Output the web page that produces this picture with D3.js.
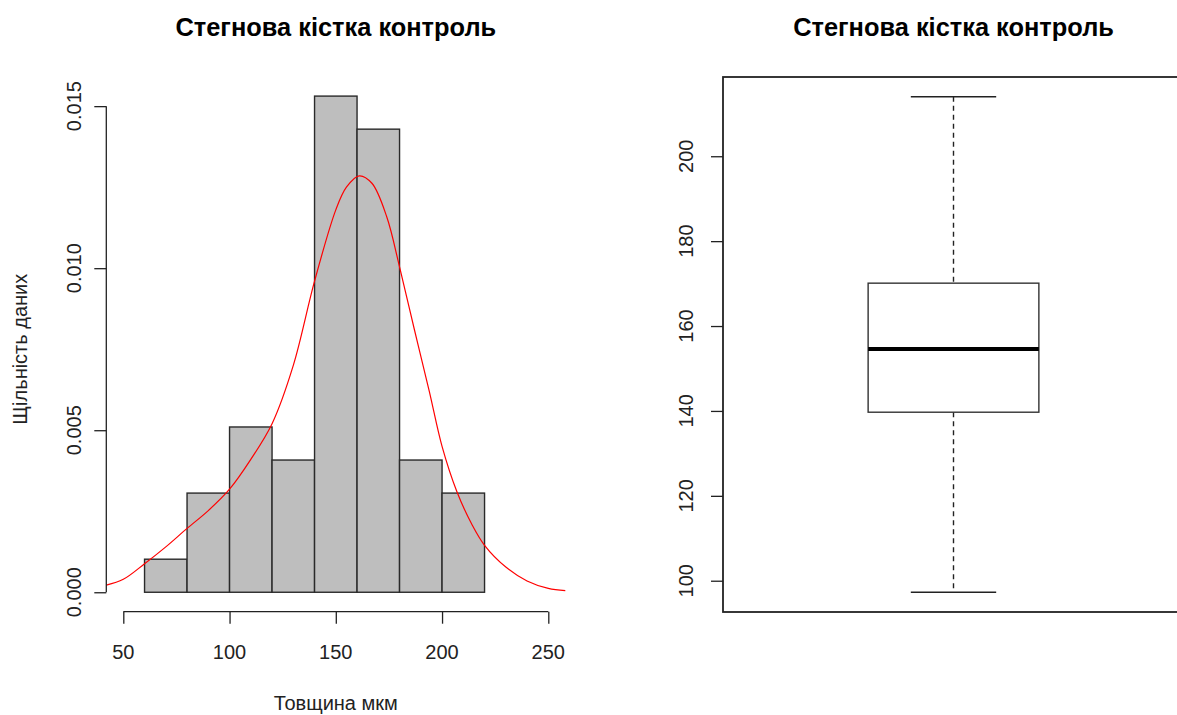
<!DOCTYPE html>
<html>
<head>
<meta charset="utf-8">
<script src="https://cdn.jsdelivr.net/npm/d3@7/dist/d3.min.js"></script>
<style>
  html, body { margin: 0; padding: 0; background: #fff; }
  svg { display: block; }
  text { font-family: "Liberation Sans", Arial, Helvetica, sans-serif; fill: #222; }
</style>
</head>
<body>
<svg id="chart" width="1177" height="715"></svg>
<script>
// ---------- data ----------
const chartTitle = "Стегнова кістка контроль";
const xAxisTitle = "Товщина мкм";
const yAxisTitle = "Щільність даних";

// histogram bins (lower edge) and bin width (мкм)
const binStarts = [60, 80, 100, 120, 140, 160, 180, 200];
const binWidth = 20;
// density of each bin
const binDensity = [0.00102, 0.00306, 0.0051, 0.00408, 0.01531, 0.01429, 0.00408, 0.00306];

// red density curve
const curveX = [42, 50, 60, 70, 80, 90, 100, 110, 120, 130, 140, 150, 155, 161, 167, 174, 180, 187, 194, 200, 207, 214, 220, 230, 240, 250, 258];
const curveY = [0.00022, 0.00040, 0.00088, 0.00140, 0.00197, 0.00252, 0.00318, 0.00410, 0.00520, 0.00700, 0.00960, 0.01180, 0.01250, 0.01285, 0.01262, 0.01158, 0.01004, 0.00810, 0.00620, 0.00450, 0.00310, 0.00210, 0.00145, 0.00078, 0.00035, 0.00012, 0.00005];

// boxplot statistics
const boxStatNames = ["lowerWhisker", "q1", "median", "q3", "upperWhisker"];
const boxStatValues = [97.3, 139.7, 154.6, 170.1, 214.0];

// tick values
const histXTicks = [50, 100, 150, 200, 250];
const histYTicks = [0, 0.005, 0.010, 0.015];
const boxYTicks = [100, 120, 140, 160, 180, 200];

// ---------- drawing ----------
const svg = d3.select("#chart");
const ink = "#222";
const tickLen = 12;

// ----- left panel: histogram -----
const xL = d3.scaleLinear().domain([42, 258]).range([106.3, 565.3]);
const yL = d3.scaleLinear().domain([-0.0006, 0.0156]).range([611.7, 86.7]);

const left = svg.append("g");

left.append("text")
  .attr("x", (xL.range()[0] + xL.range()[1]) / 2)
  .attr("y", 36)
  .attr("text-anchor", "middle")
  .style("font-size", "25.4px")
  .style("font-weight", "bold")
  .style("fill", "#000")
  .text(chartTitle);

// bars
left.append("g").selectAll("rect")
  .data(binStarts.map((s, i) => ({ s, d: binDensity[i] })))
  .join("rect")
  .attr("x", d => xL(d.s))
  .attr("y", d => yL(d.d))
  .attr("width", d => xL(d.s + binWidth) - xL(d.s))
  .attr("height", d => yL(0) - yL(d.d))
  .attr("fill", "#bebebe")
  .attr("stroke", "#2a2a2a")
  .attr("stroke-width", 1.4);

// density curve
const curvePts = curveX.map((x, i) => [x, curveY[i]]);
left.append("path")
  .datum(curvePts)
  .attr("fill", "none")
  .attr("stroke", "#ff0000")
  .attr("stroke-width", 1.2)
  .attr("d", d3.line().x(d => xL(d[0])).y(d => yL(d[1])).curve(d3.curveCatmullRom.alpha(0.5)));

// x axis
const xAxisY = yL.range()[0];
const gx = left.append("g").attr("transform", `translate(0,${xAxisY})`)
  .call(d3.axisBottom(xL).tickValues(histXTicks).tickSize(tickLen).tickFormat(""));
gx.select(".domain").remove();
gx.selectAll(".tick line").attr("stroke", ink).attr("stroke-width", 1.3);
gx.append("line")
  .attr("x1", xL(histXTicks[0])).attr("x2", xL(histXTicks[histXTicks.length - 1]))
  .attr("stroke", ink).attr("stroke-width", 1.3);
left.append("g").selectAll("text")
  .data(histXTicks).join("text")
  .attr("x", d => xL(d))
  .attr("y", 659)
  .attr("text-anchor", "middle")
  .style("font-size", "20px")
  .text(d => d);

// y axis
const yAxisX = xL.range()[0];
const gy = left.append("g").attr("transform", `translate(${yAxisX},0)`)
  .call(d3.axisLeft(yL).tickValues(histYTicks).tickSize(tickLen).tickFormat(""));
gy.select(".domain").remove();
gy.selectAll(".tick line").attr("stroke", ink).attr("stroke-width", 1.3);
gy.append("line")
  .attr("y1", yL(histYTicks[0])).attr("y2", yL(histYTicks[histYTicks.length - 1]))
  .attr("stroke", ink).attr("stroke-width", 1.3);
left.append("g").selectAll("text")
  .data(histYTicks).join("text")
  .attr("transform", d => `translate(81,${yL(d)}) rotate(-90)`)
  .attr("text-anchor", "middle")
  .style("font-size", "20px")
  .text(d => d3.format(".3f")(d));

// axis titles
left.append("text")
  .attr("x", (xL.range()[0] + xL.range()[1]) / 2)
  .attr("y", 710)
  .attr("text-anchor", "middle")
  .style("font-size", "20px")
  .text(xAxisTitle);
left.append("text")
  .attr("transform", `translate(27,${(yL(0) + yL(0.015)) / 2}) rotate(-90)`)
  .attr("text-anchor", "middle")
  .style("font-size", "20px")
  .text(yAxisTitle);

// ----- right panel: boxplot -----
const stats = Object.fromEntries(boxStatNames.map((n, i) => [n, boxStatValues[i]]));
const xR = d3.scaleLinear().domain([0.46, 1.54]).range([723, 1184]);
const ext = (stats.upperWhisker - stats.lowerWhisker) * 0.04;
const yR = d3.scaleLinear().domain([stats.lowerWhisker - ext, stats.upperWhisker + ext]).range([612, 77]);

const right = svg.append("g");

right.append("text")
  .attr("x", (723 + 1184) / 2)
  .attr("y", 36)
  .attr("text-anchor", "middle")
  .style("font-size", "25.4px")
  .style("font-weight", "bold")
  .style("fill", "#000")
  .text(chartTitle);

// whiskers (dashed)
const cx = xR(1);
right.append("line")
  .attr("x1", cx).attr("x2", cx)
  .attr("y1", yR(stats.upperWhisker)).attr("y2", yR(stats.q3))
  .attr("stroke", ink).attr("stroke-width", 1.4).attr("stroke-dasharray", "5,4");
right.append("line")
  .attr("x1", cx).attr("x2", cx)
  .attr("y1", yR(stats.q1)).attr("y2", yR(stats.lowerWhisker))
  .attr("stroke", ink).attr("stroke-width", 1.4).attr("stroke-dasharray", "5,4");
// caps
[stats.upperWhisker, stats.lowerWhisker].forEach(v => {
  right.append("line")
    .attr("x1", xR(0.9)).attr("x2", xR(1.1))
    .attr("y1", yR(v)).attr("y2", yR(v))
    .attr("stroke", ink).attr("stroke-width", 1.5);
});
// box
right.append("rect")
  .attr("x", xR(0.8)).attr("width", xR(1.2) - xR(0.8))
  .attr("y", yR(stats.q3)).attr("height", yR(stats.q1) - yR(stats.q3))
  .attr("fill", "#fff").attr("stroke", "#333").attr("stroke-width", 1.4);
// median
right.append("line")
  .attr("x1", xR(0.8)).attr("x2", xR(1.2))
  .attr("y1", yR(stats.median)).attr("y2", yR(stats.median))
  .attr("stroke", "#000").attr("stroke-width", 4);

// frame
right.append("rect")
  .attr("x", 723).attr("y", 77)
  .attr("width", 1184 - 723).attr("height", 612 - 77)
  .attr("fill", "none").attr("stroke", ink).attr("stroke-width", 1.8);

// y axis
const gyR = right.append("g").attr("transform", "translate(723,0)")
  .call(d3.axisLeft(yR).tickValues(boxYTicks).tickSize(tickLen).tickFormat(""));
gyR.select(".domain").remove();
gyR.selectAll(".tick line").attr("stroke", ink).attr("stroke-width", 1.3);
right.append("g").selectAll("text")
  .data(boxYTicks).join("text")
  .attr("transform", d => `translate(693,${yR(d)}) rotate(-90)`)
  .attr("text-anchor", "middle")
  .style("font-size", "20px")
  .text(d => d);
</script>
</body>
</html>
